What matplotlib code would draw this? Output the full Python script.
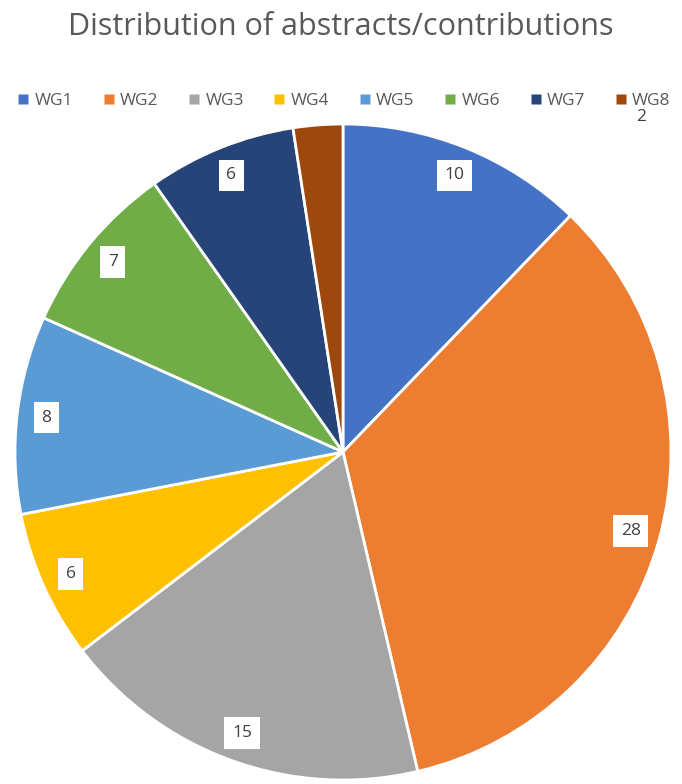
import matplotlib
matplotlib.use('Agg')
import matplotlib.pyplot as plt
from matplotlib.lines import Line2D
import numpy as np

plt.rcParams['font.family'] = ['Open Sans', 'DejaVu Sans']

# data
groups = ['WG1', 'WG2', 'WG3', 'WG4', 'WG5', 'WG6', 'WG7', 'WG8']
counts = [10, 28, 15, 6, 8, 7, 6, 2]
colors = ['#4472C4', '#ED7D31', '#A5A5A5', '#FFC000',
          '#5B9BD5', '#70AD47', '#264478', '#9E480E']

TXT = '#595959'

fig = plt.figure(figsize=(6.82, 7.84), dpi=100)
W, H = 682, 784
cx, cy, r = 343, 452, 328
ax = fig.add_axes([(cx - r) / W, (H - cy - r) / H, 2 * r / W, 2 * r / H])

wedges, _ = ax.pie(counts, colors=colors, startangle=90, counterclock=False,
                   radius=1.0, wedgeprops=dict(edgecolor='white', linewidth=2))
ax.set_xlim(-1, 1)
ax.set_ylim(-1, 1)
ax.set_aspect('equal')
ax.axis('off')

# value labels, inside near the edge
for i, (w, v) in enumerate(zip(wedges, counts)):
    mid = np.deg2rad((w.theta1 + w.theta2) / 2)
    d = 0.91
    x, y = d * np.cos(mid), d * np.sin(mid)
    if groups[i] == 'WG8':
        # this label sits outside, next to the legend
        ax.text(0.91, 1.02, str(v), ha='center', va='center', fontsize=12.5,
                color='#404040', clip_on=False)
        continue
    ax.text(x, y, str(v), ha='center', va='center', fontsize=12.5,
            color='#404040',
            bbox=dict(facecolor='white', edgecolor='none', pad=5.5))

# title
fig.text(0.5, 1 - 27 / H, 'Distribution of abstracts/contributions',
         ha='center', va='center', fontsize=22, color=TXT)

# legend
handles = [Line2D([], [], marker='s', linestyle='none', markersize=6.5,
                  markerfacecolor=c, markeredgecolor='none') for c in colors]
fig.legend(handles, groups, loc='center', bbox_to_anchor=(0.505, 1 - 101 / H),
           ncol=8, frameon=False, fontsize=12.5, labelcolor=TXT,
           handlelength=0.6, handletextpad=0.35, columnspacing=1.75)

fig.savefig('out.png', dpi=100)
